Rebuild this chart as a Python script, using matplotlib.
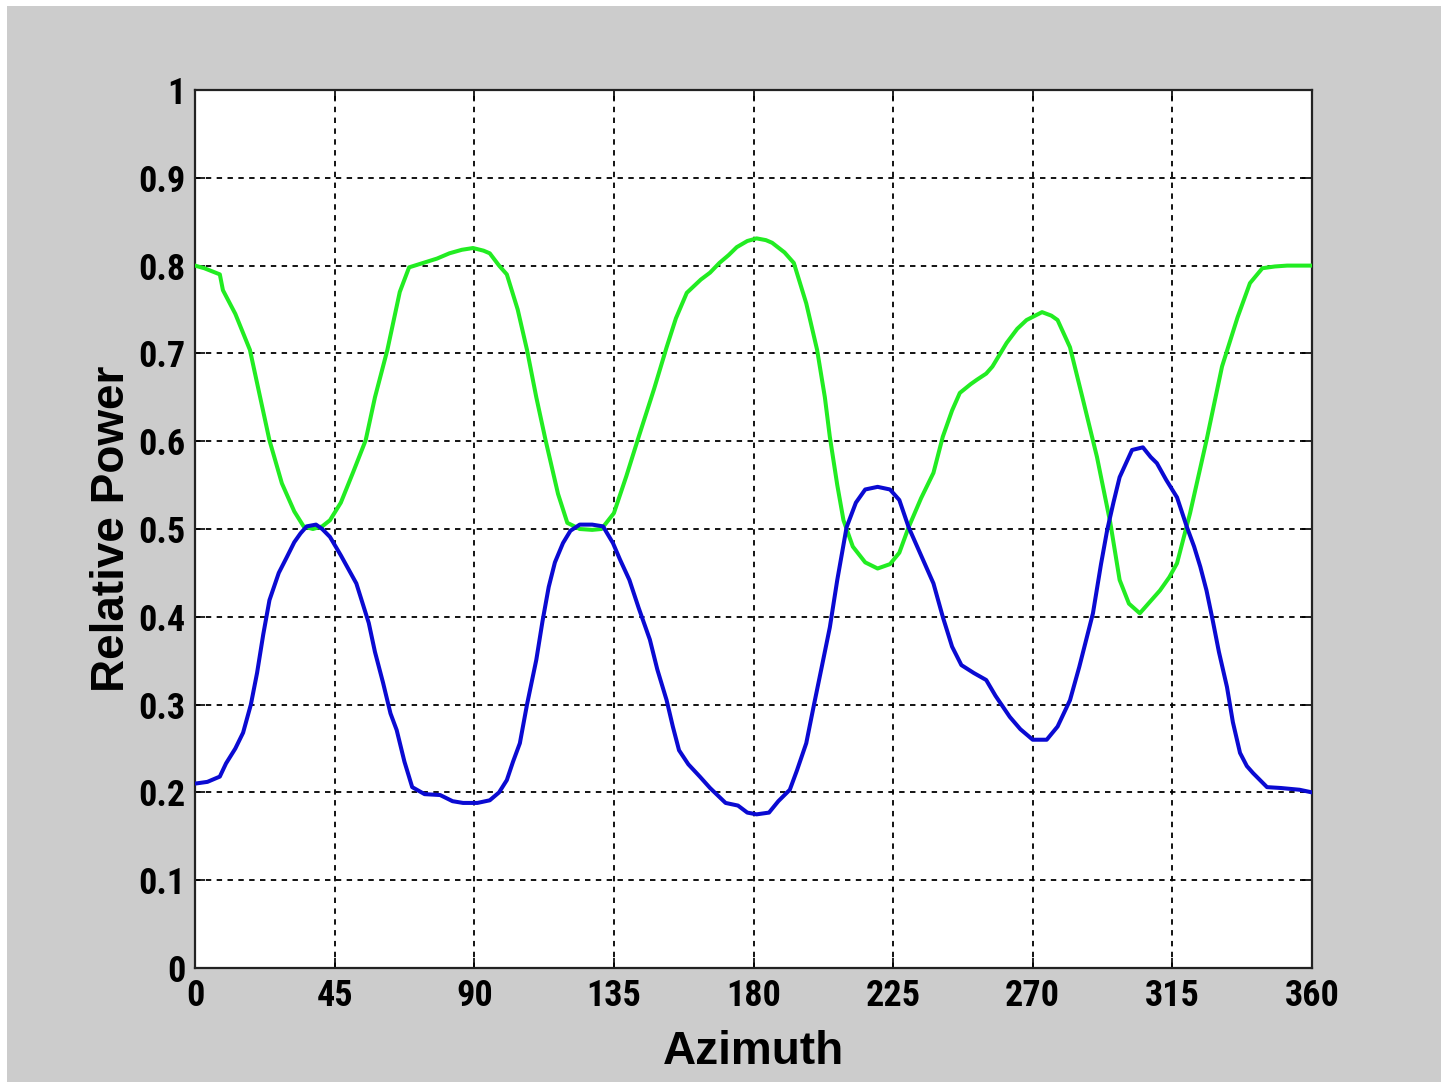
import matplotlib
matplotlib.use("Agg")
import matplotlib.pyplot as plt
from matplotlib.patches import Rectangle

# --- data (azimuth in degrees, relative power) ---
green_az = [0, 3, 8, 9, 13, 17.7, 21, 24, 28, 32, 35, 38, 41, 43.5, 47, 51, 55, 58, 62, 66,
            69, 73.5, 78, 82, 86, 89.6, 93, 95, 98, 100.5, 104, 107, 110, 113, 117, 120, 124,
            128, 131, 135, 139, 143, 148, 152, 155, 158.5, 163, 166, 169, 172, 174.6, 178, 181,
            184, 186, 190, 193, 197, 200.5, 203, 204.6, 207, 209, 212, 216, 220, 224, 227, 230,
            234, 238, 241, 244, 246.5, 250, 252, 255, 257, 261.6, 265, 268, 273, 276, 278, 282,
            286, 290.7, 295, 298, 301, 304.5, 308, 311, 314, 316.5, 320.7, 326, 331, 336, 340,
            344, 348, 352, 356, 360]
green_pw = [0.80, 0.797, 0.79, 0.772, 0.745, 0.704, 0.65, 0.601, 0.552, 0.52, 0.503, 0.50, 0.503,
            0.51, 0.53, 0.565, 0.601, 0.65, 0.704, 0.77, 0.798, 0.803, 0.808, 0.814, 0.818, 0.82,
            0.817, 0.814, 0.80, 0.79, 0.75, 0.704, 0.65, 0.601, 0.54, 0.507, 0.50, 0.499, 0.50,
            0.518, 0.56, 0.605, 0.66, 0.707, 0.74, 0.769, 0.784, 0.792, 0.803, 0.812, 0.821,
            0.828, 0.831, 0.829, 0.826, 0.815, 0.803, 0.757, 0.704, 0.65, 0.605, 0.55, 0.51,
            0.48, 0.462, 0.455, 0.46, 0.473, 0.502, 0.535, 0.564, 0.605, 0.635, 0.655, 0.665,
            0.67, 0.677, 0.685, 0.712, 0.728, 0.738, 0.747, 0.743, 0.738, 0.707, 0.65, 0.582,
            0.507, 0.442, 0.415, 0.404, 0.418, 0.43, 0.445, 0.461, 0.518, 0.601, 0.685, 0.741,
            0.78, 0.797, 0.799, 0.80, 0.80, 0.80]

blue_az = [0, 4, 8, 10, 13, 15.5, 18, 20, 22, 24, 27, 29.6, 32, 34, 36, 39, 41, 43.5, 47, 52, 56,
           58, 60.6, 63, 65, 67.5, 70, 74, 79, 83, 86.4, 91, 95, 98, 100.5, 102.5, 104.7, 107,
           110, 112, 114, 116, 118.6, 121, 124, 128, 131.5, 134.7, 137, 140, 143, 146.6, 149,
           152, 154, 156, 159, 162.7, 166, 171, 175, 178, 181, 185, 188, 191.7, 194, 197, 199.5,
           202, 204.6, 207, 210, 213, 216, 220, 224, 227, 230, 234, 238, 241, 244, 247, 251,
           255, 258, 262.6, 266, 270, 274.5, 278, 282, 285, 289.4, 292, 294, 296, 298, 302,
           305.5, 308, 310, 313, 316.5, 319.7, 322, 324, 326, 328, 330, 332.6, 334.5, 336.8,
           339, 341, 345.5, 350, 356, 360]
blue_pw = [0.21, 0.212, 0.218, 0.233, 0.25, 0.268, 0.30, 0.336, 0.38, 0.419, 0.45, 0.468, 0.485,
           0.495, 0.503, 0.505, 0.50, 0.491, 0.47, 0.438, 0.393, 0.36, 0.325, 0.29, 0.271, 0.235,
           0.206, 0.198, 0.197, 0.19, 0.188, 0.188, 0.191, 0.20, 0.214, 0.235, 0.256, 0.30,
           0.351, 0.395, 0.434, 0.462, 0.484, 0.498, 0.505, 0.505, 0.503, 0.484, 0.465, 0.442,
           0.41, 0.374, 0.34, 0.305, 0.275, 0.248, 0.232, 0.218, 0.205, 0.188, 0.185, 0.177,
           0.175, 0.177, 0.19, 0.203, 0.225, 0.256, 0.30, 0.343, 0.388, 0.442, 0.502, 0.53,
           0.545, 0.548, 0.545, 0.533, 0.502, 0.47, 0.438, 0.40, 0.366, 0.345, 0.336, 0.328,
           0.31, 0.286, 0.272, 0.26, 0.26, 0.275, 0.305, 0.343, 0.404, 0.46, 0.499, 0.53, 0.559,
           0.59, 0.593, 0.582, 0.575, 0.556, 0.536, 0.502, 0.48, 0.457, 0.43, 0.396, 0.36, 0.32,
           0.28, 0.245, 0.23, 0.222, 0.206, 0.205, 0.203, 0.2]

x_ticks = [0, 45, 90, 135, 180, 225, 270, 315, 360]
y_ticks = [0, 0.1, 0.2, 0.3, 0.4, 0.5, 0.6, 0.7, 0.8, 0.9, 1]
y_tick_labels = ["0", "0.1", "0.2", "0.3", "0.4", "0.5", "0.6", "0.7", "0.8", "0.9", "1"]

tick_font = dict(family=["Roboto Condensed", "DejaVu Sans"], weight="bold", size=26)
label_font = dict(family=["Liberation Sans", "DejaVu Sans"], weight="bold", size=33)

fig = plt.figure(figsize=(14.41, 10.82), dpi=100, facecolor="white")
# gray panel, thin white margin on top and left like the original export
fig.patches.append(Rectangle((7 / 1441, 0), 1, 1 - 6 / 1082, transform=fig.transFigure,
                             facecolor="#cccccc", edgecolor="none", zorder=-10))

ax = fig.add_axes([195 / 1441, 1 - 968 / 1082, (1312 - 195) / 1441, (968 - 90) / 1082])
ax.set_facecolor("white")

ax.plot(green_az, green_pw, color="#22ec22", lw=2.9, zorder=3)
ax.plot(blue_az, blue_pw, color="#0a0ad2", lw=2.9, zorder=3)

ax.set_xlim(0, 360)
ax.set_ylim(0, 1)
ax.set_xticks(x_ticks)
ax.set_yticks(y_ticks)
ax.set_xticklabels([str(t) for t in x_ticks], fontdict=tick_font)
ax.set_yticklabels(y_tick_labels, fontdict=tick_font)
ax.tick_params(direction="in", length=7, width=1.2, top=True, right=True, pad=7)

ax.grid(True, color="black", linestyle=(0, (3, 3)), linewidth=1.3)
for s in ax.spines.values():
    s.set_linewidth(1.6)
    s.set_color("#222222")

ax.set_xlabel("Azimuth", fontdict=label_font, labelpad=12)
ax.set_ylabel("Relative Power", fontdict=label_font, labelpad=3)

fig.savefig("out.png", dpi=100, facecolor=fig.get_facecolor())
